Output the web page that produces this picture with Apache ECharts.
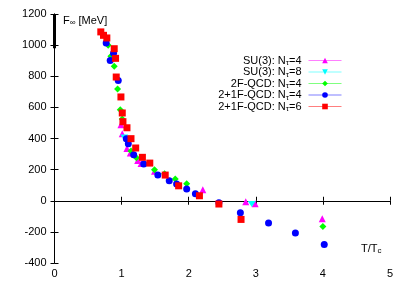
<!DOCTYPE html>
<html><head><meta charset="utf-8">
<script src="https://cdn.jsdelivr.net/npm/echarts@6/dist/echarts.min.js"></script>
<style>html,body{margin:0;padding:0;background:#fff}#c{width:409px;height:286px}</style>
</head><body><div id="c"></div>
<script>
const seriesNames = ['SU(3): N{s|τ}=4','SU(3): N{s|τ}=8','2F-QCD: N{s|τ}=4','2+1F-QCD: N{s|τ}=4','2+1F-QCD: N{s|τ}=6'];
const su3nt4T = [0.99,1.01,1.08,1.13,1.24,1.29,1.49,2.21,2.85,2.99,3.99];
const su3nt4F = [489,431,336,307,259,240,189,71,-6,-19,-116];
const su3nt8T = [1.04,2.94];
const su3nt8F = [407,-21];
const qcd2T = [0.80,0.84,0.89,0.94,0.98,1.01,1.14,1.22,1.49,1.64,1.80,1.97,4.00];
const qcd2F = [999,928,864,718,585,525,320,276,199,174,139,109,-165];
const qcd21n4T = [0.77,0.83,0.88,0.95,1.07,1.10,1.18,1.33,1.54,1.71,1.82,1.97,2.10,2.45,2.77,3.19,3.59,4.02];
const qcd21n4F = [1014,902,947,773,399,367,296,236,165,129,107,75,45,-13,-77,-143,-208,-281];
const qcd21n6T = [0.69,0.73,0.78,0.89,0.91,0.92,0.99,1.01,1.02,1.08,1.14,1.21,1.31,1.42,1.65,1.85,2.16,2.45,2.78];
const qcd21n6F = [1085,1063,1046,977,915,795,667,564,508,469,399,339,279,242,165,96,32,-21,-120];
const barT = [0,0];
const barF = [1200,980];
const xTicks = [0,1,2,3,4,5];
const yTicks = [-400,-200,0,200,400,600,800,1000,1200];

const colors = ['#ff00ff','#00ffff','#00ff00','#0000ff','#ff0000'];
const symbols = ['triangle','path://M0,0 L20,0 L10,10 Z','diamond','circle','rect'];
const sizes = [7,[8,6],7,7,7];
const Ts = [su3nt4T,su3nt8T,qcd2T,qcd21n4T,qcd21n6T];
const Fs = [su3nt4F,su3nt8F,qcd2F,qcd21n4F,qcd21n6F];
const pair = (a,b)=>a.map((v,i)=>[v,b[i]]);

const font = 'Liberation Sans, Arial, sans-serif';
const series = seriesNames.map((n,i)=>({
  name:n, type:'line', data:pair(Ts[i],Fs[i]),
  symbol: symbols[i], symbolSize: sizes[i],
  itemStyle:{color:colors[i]}, lineStyle:{opacity:0}, z: 3+i
}));
series.push({name:'bar', type:'line', data:pair(barT,barF), symbol:'none',
  lineStyle:{color:'#000',width:3}, z:10});

const chart = echarts.init(document.getElementById('c'),null,{renderer:'canvas'});
const axLine = {show:true,lineStyle:{color:'#000',width:1}};
const tick = {inside:true,length:4,lineStyle:{color:'#000'}};
chart.setOption({
  animation:false,
  grid:{left:54.5,right:19,top:14,bottom:23,containLabel:false},
  xAxis:[
    {type:'value',min:0,max:5,interval:1,position:'bottom',axisLine:axLine,axisTick:tick,
     splitLine:{show:false},
     axisLabel:{color:'#000',fontSize:11,fontFamily:font,margin:5,formatter:v=>String(v)}},
    {type:'value',min:0,max:5,interval:1,position:'top',axisLine:axLine,axisTick:tick,
     splitLine:{show:false},axisLabel:{show:false}}
  ],
  yAxis:[
    {type:'value',min:-400,max:1200,interval:200,position:'left',axisLine:axLine,axisTick:tick,
     splitLine:{show:false},
     axisLabel:{color:'#000',fontSize:11,fontFamily:font,margin:8,formatter:v=>String(v)}},
    {type:'value',min:-400,max:1200,interval:200,position:'right',axisLine:axLine,axisTick:tick,
     splitLine:{show:false},axisLabel:{show:false}}
  ],
  legend:{
    data:seriesNames, orient:'vertical', right:67, top:54, align:'right', padding:0,
    itemWidth:33, itemHeight:7, itemGap:-1.5,
    lineStyle:{opacity:0.5,width:1},
    textStyle:{color:'#000',fontSize:11,fontFamily:font,lineHeight:11.3,padding:[0,2,0,0],
      rich:{s:{fontSize:8,lineHeight:11.3,padding:[5,0,0,0],fontFamily:font,color:'#000'}}}
  },
  graphic:[
    {type:'text',left:63,top:15,style:{text:'F{s|∞} [MeV]',fill:'#000',font:'11px '+font,
      rich:{s:{fontSize:8,padding:[4,0,0,0]}}}},
    {type:'text',left:361,top:243,style:{text:'T/T{s|c}',fill:'#000',font:'11px '+font,
      rich:{s:{fontSize:8,padding:[5,0,0,0]}}}}
  ],
  series:series
});
</script></body></html>
